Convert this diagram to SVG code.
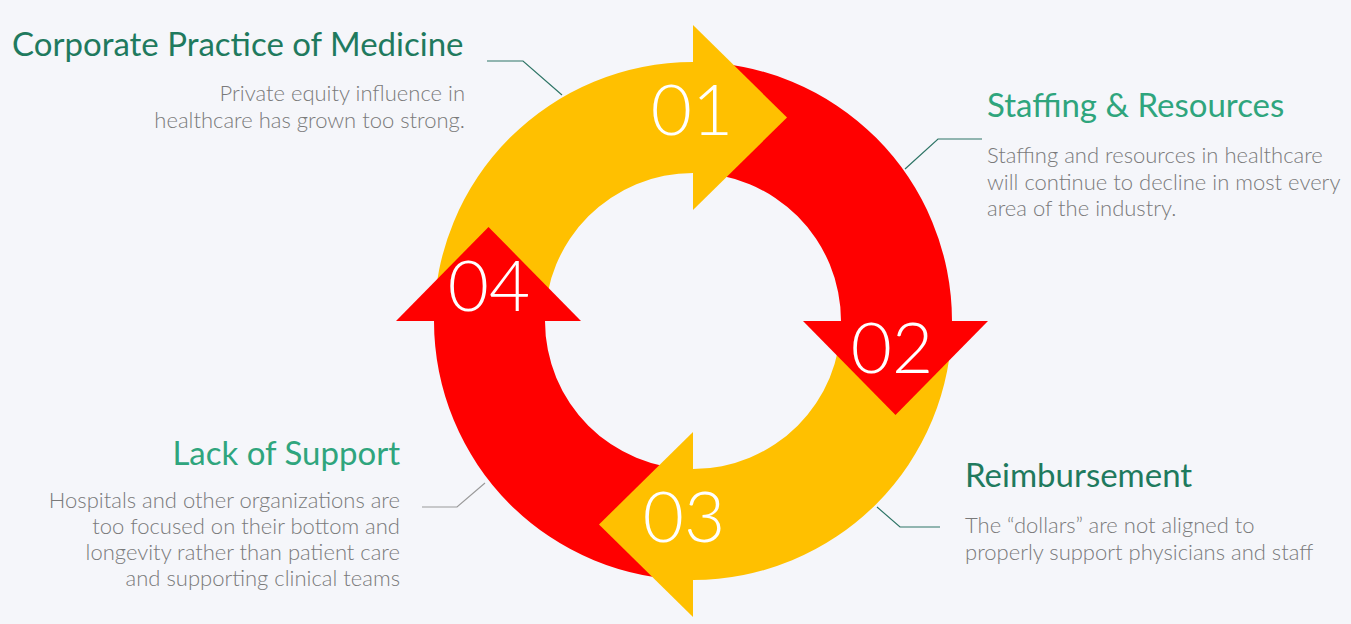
<svg xmlns="http://www.w3.org/2000/svg" width="1351" height="624" viewBox="0 0 1351 624">
<style>
.y{fill:#FFC000}
.r{fill:#FF0000}
.num{font-family:Lato,"Open Sans",sans-serif;font-weight:300;font-size:71px;fill:#FFFFFF;text-anchor:middle}
.t{font-family:Lato,"Open Sans",sans-serif;font-size:33px}
.dk{fill:#1F7A5E}
.lt{fill:#2FA57D}
.b{font-family:Lato,"Open Sans",sans-serif;font-weight:300;font-size:22px;fill:#7A7A7A}
.ln{fill:none;stroke:#2E7566;stroke-width:1.2}
.lg{fill:none;stroke:#9A9A9A;stroke-width:1.2}
</style>
<rect width="1351" height="624" fill="#F5F6FA"/>
<g id="bands">
<path class="y" d="M434 321 A259 259 0 0 1 693 62 L693 173 A148 148 0 0 0 545 321 Z"/>
<path class="r" d="M693 62 A259 259 0 0 1 952 321 L841 321 A148 148 0 0 0 693 173 Z"/>
<path class="y" d="M952 321 A259 259 0 0 1 693 580 L693 469 A148 148 0 0 0 841 321 Z"/>
<path class="r" d="M693 580 A259 259 0 0 1 434 321 L545 321 A148 148 0 0 0 693 469 Z"/>
</g>
<g id="node-01">
<polygon class="y" points="693,25 787,117.5 693,210"/>
<text class="num" x="692" y="135">01</text>
</g>
<g id="node-02">
<polygon class="r" points="803,321 988,321 895.5,415"/>
<text class="num" x="892" y="373">02</text>
</g>
<g id="node-03">
<polygon class="y" points="693,432 599,524.5 693,617"/>
<text class="num" x="684" y="542">03</text>
</g>
<g id="node-04">
<polygon class="r" points="396,321 581,321 488.5,227"/>
<text class="num" x="489" y="311">04</text>
</g>
<g id="connectors">
<polyline class="ln" points="487,61 523,61 562,95"/>
<polyline class="ln" points="982,139 938,139 905,169"/>
<polyline class="ln" points="877,507 900,527 940,527"/>
<polyline class="lg" points="485,483 457,507 422,507"/>
</g>
<g id="label-corporate">
<text class="t dk" x="12" y="56">Corporate Practice of Medicine</text>
<text class="b" text-anchor="end" x="465" y="101">Private equity influence in</text>
<text class="b" text-anchor="end" x="465" y="128">healthcare has grown too strong.</text>
</g>
<g id="label-staffing">
<text class="t lt" x="987" y="117">Staffing &amp; Resources</text>
<text class="b" x="987" y="163">Staffing and resources in healthcare</text>
<text class="b" x="987" y="190">will continue to decline in most every</text>
<text class="b" x="987" y="216">area of the industry.</text>
</g>
<g id="label-support">
<text class="t lt" text-anchor="end" x="400" y="465">Lack of Support</text>
<text class="b" text-anchor="end" x="400" y="508">Hospitals and other organizations are</text>
<text class="b" text-anchor="end" x="400" y="534">too focused on their bottom and</text>
<text class="b" text-anchor="end" x="400" y="560">longevity rather than patient care</text>
<text class="b" text-anchor="end" x="400" y="586">and supporting clinical teams</text>
</g>
<g id="label-reimbursement">
<text class="t dk" x="965" y="487">Reimbursement</text>
<text class="b" x="965" y="533">The “dollars” are not aligned to</text>
<text class="b" x="965" y="560">properly support physicians and staff</text>
</g>
</svg>
